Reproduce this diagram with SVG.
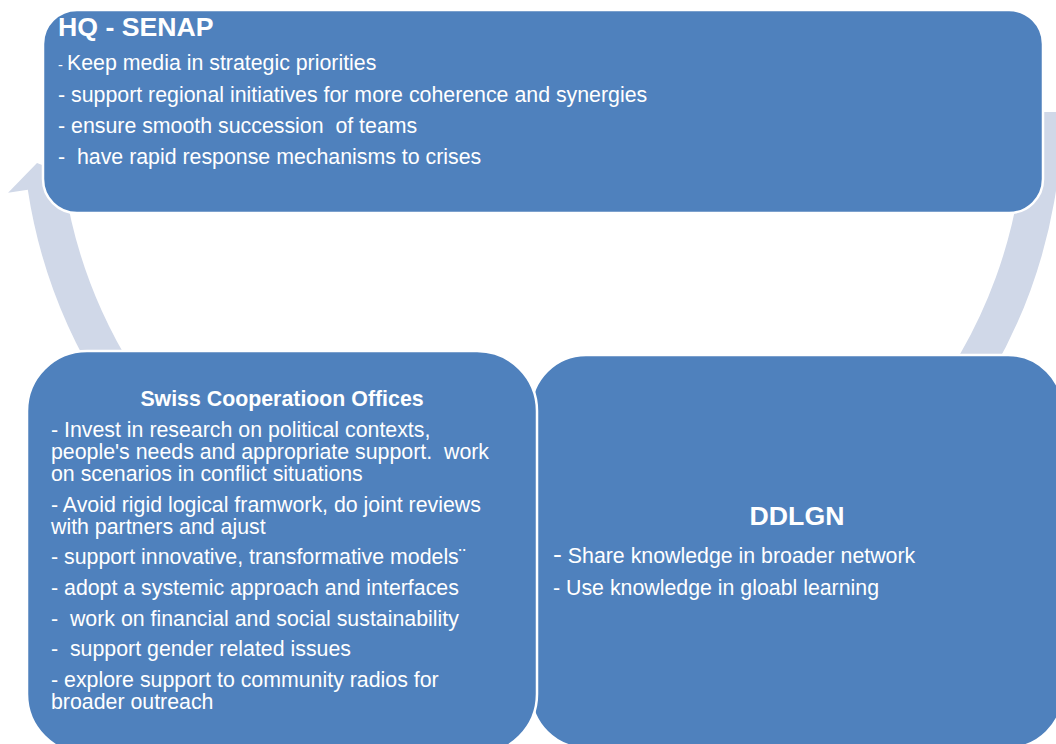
<svg xmlns="http://www.w3.org/2000/svg" width="1056" height="744" viewBox="0 0 1056 744">
  <style>
    .box { fill: #4F81BD; stroke: #FFFFFF; stroke-width: 2.5; }
    .arc { fill: #D0D8E8; stroke: none; }
    text { font-family: "Liberation Sans", Arial, sans-serif; fill: #FFFFFF; font-size: 21.33px; }
    .title { font-weight: bold; font-size: 26.67px; }
    .subtitle { font-weight: bold; font-size: 21.33px; }
    .mid { text-anchor: middle; }
  </style>

  <!-- cycle arrows between the three blocks -->
  <g id="connectors">
    <!-- top block down to the right block -->
    <path class="arc" d="M 1062 112 A 520 520 0 0 1 940.3 446.3 L 912 422.5 A 483 483 0 0 0 1025 112 Z"/>
    <!-- left block up to the top block, arrowhead at the top -->
    <path class="arc" d="M 143.7 446.3 A 520 520 0 0 1 27.8 189.8 L 8.1 192.7 L 37 163 L 84.2 181.2 L 64.4 184.2 A 483 483 0 0 0 172 422.5 Z"/>
  </g>

  <!-- DDLGN block (sits behind the country office block) -->
  <g id="node-ddlgn">
    <rect class="box" x="531" y="355" width="532" height="393" rx="55" ry="55"/>
    <text class="title mid" x="797" y="525">DDLGN</text>
    <text x="553" y="562.5" xml:space="preserve"><tspan font-size="26.67px">-</tspan> Share knowledge in broader network</text>
    <text x="553" y="594.5">- Use knowledge in gloabl learning</text>
  </g>

  <!-- Swiss Cooperation Offices block -->
  <g id="node-sco">
    <rect class="box" x="27" y="351" width="510" height="403" rx="60" ry="60"/>
    <text class="subtitle mid" x="282" y="406">Swiss Cooperatioon Offices</text>
    <text x="51" y="437">- Invest in research on political contexts,</text>
    <text x="51" y="459" xml:space="preserve">people's needs and appropriate support.  work</text>
    <text x="51" y="481">on scenarios in conflict situations</text>
    <text x="51" y="512">- Avoid rigid logical framwork, do joint reviews</text>
    <text x="51" y="534">with partners and ajust</text>
    <text x="51" y="564">- support innovative, transformative models¨</text>
    <text x="51" y="595">- adopt a systemic approach and interfaces</text>
    <text x="51" y="625.5" xml:space="preserve">-  work on financial and social sustainability</text>
    <text x="51" y="656" xml:space="preserve">-  support gender related issues</text>
    <text x="51" y="687">- explore support to community radios for</text>
    <text x="51" y="709">broader outreach</text>
  </g>

  <!-- HQ - SENAP block -->
  <g id="node-hq">
    <rect class="box" x="43" y="10" width="1000" height="203" rx="34" ry="34"/>
    <text class="title" x="58" y="36">HQ - SENAP</text>
    <text x="58" y="70" xml:space="preserve"><tspan font-size="14.67px">- </tspan>Keep media in strategic priorities</text>
    <text x="58" y="101.5">- support regional initiatives for more coherence and synergies</text>
    <text x="58" y="132.5" xml:space="preserve">- ensure smooth succession  of teams</text>
    <text x="58" y="163.5" xml:space="preserve">-  have rapid response mechanisms to crises</text>
  </g>
</svg>
